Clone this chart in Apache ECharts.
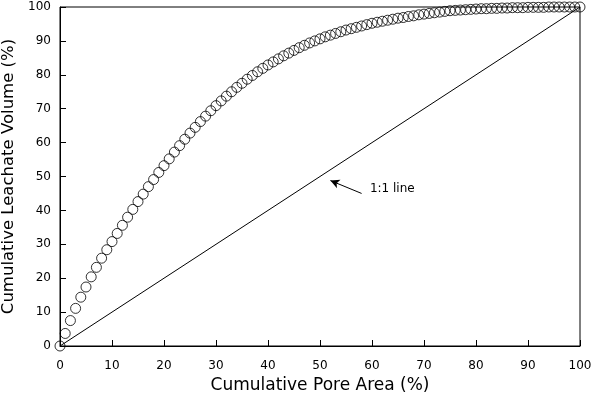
<!DOCTYPE html>
<html>
<head>
<meta charset="utf-8">
<script src="https://cdn.jsdelivr.net/npm/echarts@6/dist/echarts.min.js"></script>
<style>
  html, body { margin: 0; padding: 0; background: #fff; }
  #chart { width: 595px; height: 398px; }
</style>
</head>
<body>
<div id="chart"></div>
<script>
// cumulative pore area (%) vs cumulative leachate volume (%)
var poreArea = [];
for (var i = 0; i <= 100; i++) poreArea.push(i);
var leachate = [
  0, 3.7, 7.5, 11.1, 14.4, 17.4, 20.4, 23.2, 25.9, 28.4,
  30.8, 33.2, 35.6, 38.0, 40.3, 42.6, 44.8, 47.0, 49.1, 51.2,
  53.2, 55.2, 57.2, 59.1, 61.0, 62.8, 64.5, 66.2, 67.8, 69.4,
  70.9, 72.3, 73.7, 75.0, 76.3, 77.5, 78.7, 79.8, 80.9, 81.9,
  82.9, 83.8, 84.7, 85.6, 86.4, 87.2, 88.0, 88.7, 89.4, 90.0,
  90.6, 91.2, 91.7, 92.2, 92.7, 93.2, 93.6, 94.0, 94.4, 94.8,
  95.2, 95.5, 95.8, 96.1, 96.4, 96.7, 96.9, 97.2, 97.4, 97.7,
  97.9, 98.1, 98.3, 98.5, 98.7, 98.9, 99.0, 99.1, 99.2, 99.3,
  99.4, 99.5, 99.5, 99.6, 99.6, 99.7, 99.7, 99.8, 99.8, 99.8,
  99.9, 99.9, 99.9, 99.9, 100, 100, 100, 100, 100, 100, 100
];
var oneToOne = [[0, 0], [100, 100]];
var arrowFrom = [58, 45];
var arrowTo = [52, 48.8];
var noteAt = [59.5, 46.4];

var points = poreArea.map(function (x, i) { return [x, leachate[i]]; });

var myChart = echarts.init(document.getElementById('chart'));
var font = 'DejaVu Sans';
myChart.setOption({
  animation: false,
  backgroundColor: '#fff',
  grid: {
    left: 60, right: 15, top: 7, bottom: 52,
    outerBoundsMode: 'none', containLabel: false,
    show: true, borderColor: '#000', borderWidth: 1
  },
  xAxis: {
    type: 'value', min: 0, max: 100, interval: 10,
    name: 'Cumulative Pore Area (%)',
    nameLocation: 'middle', nameGap: 29,
    nameTextStyle: { fontFamily: font, fontSize: 17, color: '#000' },
    axisLine: { lineStyle: { color: '#000', width: 1 } },
    axisTick: { inside: true, length: 6, lineStyle: { color: '#000' } },
    axisLabel: { fontFamily: font, fontSize: 12, color: '#000', margin: 14 },
    splitLine: { show: false }
  },
  yAxis: {
    type: 'value', min: 0, max: 100, interval: 10,
    name: 'Cumulative Leachate Volume (%)',
    nameLocation: 'middle', nameGap: 30,
    nameTextStyle: { fontFamily: font, fontSize: 16.5, color: '#000' },
    axisLine: { show: true, lineStyle: { color: '#000', width: 1 } },
    axisTick: { show: true, inside: true, length: 6, lineStyle: { color: '#000' } },
    axisLabel: { fontFamily: font, fontSize: 12, color: '#000', margin: 9 },
    splitLine: { show: false }
  },
  series: [
    {
      type: 'line',
      data: oneToOne,
      symbol: 'none',
      lineStyle: { color: '#000', width: 1 },
      silent: true,
      markLine: {
        silent: true,
        symbol: ['none', 'arrow'],
        symbolSize: [7, 9],
        label: { show: false },
        lineStyle: { color: '#000', width: 1, type: 'solid' },
        data: [[{ coord: arrowFrom }, { coord: arrowTo }]]
      },
      markPoint: {
        silent: true,
        symbol: 'circle', symbolSize: 1,
        itemStyle: { color: 'transparent' },
        label: {
          show: true, position: 'right', distance: 0,
          formatter: '1:1 line',
          fontFamily: font, fontSize: 12, color: '#000'
        },
        data: [{ coord: noteAt }]
      }
    },
    {
      type: 'scatter',
      data: points,
      symbol: 'circle',
      symbolSize: 10,
      itemStyle: { color: 'transparent', borderColor: '#000', borderWidth: 1 }
    }
  ]
});
</script>
</body>
</html>
